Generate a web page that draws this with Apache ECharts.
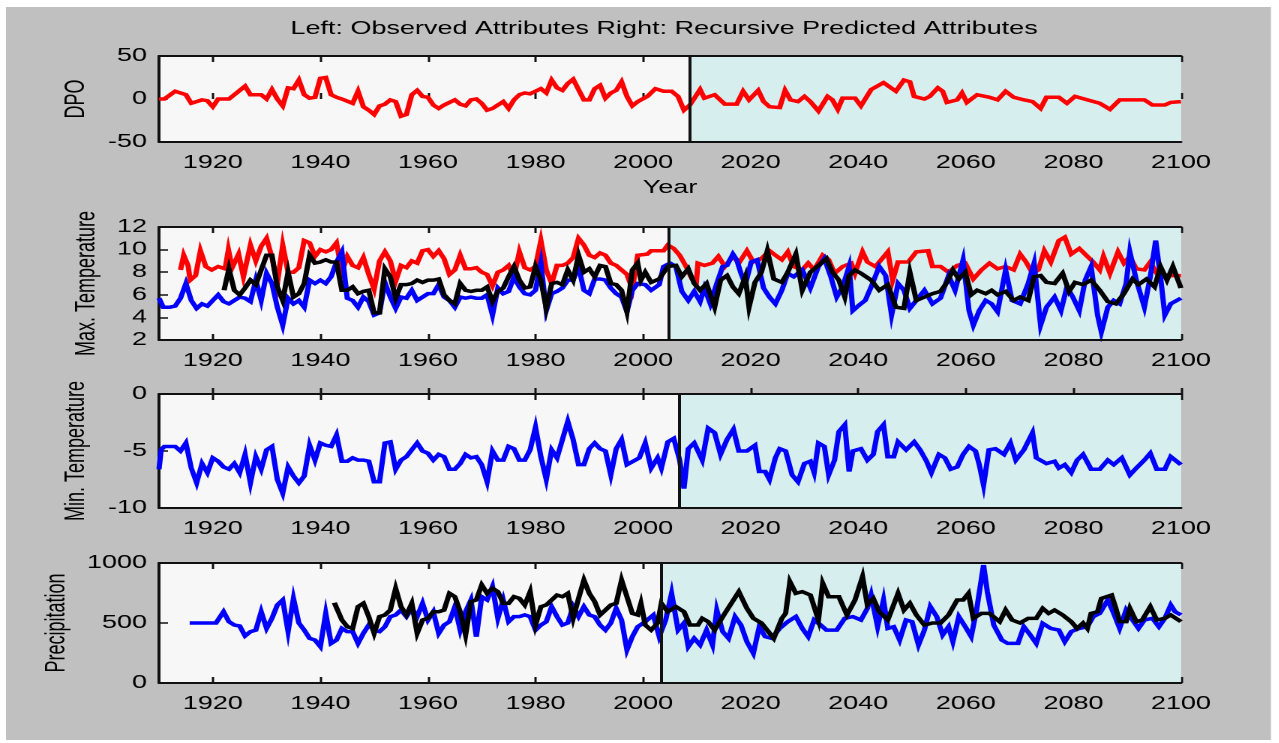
<!DOCTYPE html>
<html>
<head>
<meta charset="utf-8">
<script src="https://cdn.jsdelivr.net/npm/echarts@6/dist/echarts.min.js"></script>
<style>
  html, body { margin: 0; padding: 0; background: #ffffff; overflow: hidden; }
  #main { position: absolute; left: 0; top: 0; height: 743px; transform-origin: 0 0; }
</style>
</head>
<body>
<div id="main"></div>
<script>
// ---- data -------------------------------------------------------------
const yearTicks = [1920, 1940, 1960, 1980, 2000, 2020, 2040, 2060, 2080, 2100];
// first year of the recursive prediction in each panel
const splitYears = [2008.6, 2004.8, 2006.8, 2003.4];

const dpo = [[1910,0],[1911,0],[1913,9],[1915,5],[1916,-5],[1918,-1],[1919,-2],[1920,-9],[1921,0],[1923,0],[1924,5],[1926,15],[1927,5],[1929,5],[1930,0],[1931,11],[1932,0],[1933,-8],[1934,13],[1935,12],[1936,22],[1937,5],[1938,1],[1939,2],[1940,24],[1941,25],[1942,5],[1943,2],[1944,0],[1946,-5],[1947,9],[1948,-9],[1949,-13],[1950,-18],[1951,-8],[1952,-6],[1953,-1],[1954,-3],[1955,-20],[1956,-18],[1957,5],[1958,10],[1959,3],[1960,2],[1961,-7],[1962,-11],[1963,-7],[1965,-1],[1966,-6],[1967,-8],[1968,-1],[1969,0],[1970,-5],[1971,-13],[1972,-11],[1973,-7],[1974,-3],[1975,-11],[1976,-1],[1977,5],[1978,7],[1979,6],[1980,9],[1981,12],[1982,7],[1983,22],[1984,13],[1985,10],[1986,18],[1987,23],[1988,11],[1989,-1],[1990,-1],[1991,12],[1992,16],[1993,1],[1994,7],[1995,10],[1996,20],[1997,3],[1998,-8],[1999,-3],[2000.8,3],[2002.3,12],[2003.8,9],[2005.3,9],[2006.5,3],[2007.6,-13],[2008.7,-7],[2010.6,11],[2011.4,1],[2013.3,5],[2015.2,-6],[2017.4,-6],[2018.6,9],[2019.7,-1],[2021.4,10],[2022.4,-3],[2023.5,-9],[2025.4,-10],[2026.4,10],[2027.4,-1],[2028.8,-3],[2030,3],[2031.1,-3],[2032.6,-14],[2034.3,3],[2035.2,-1],[2036.2,-12],[2037.1,1],[2039.4,1],[2040.5,-8],[2042.4,11],[2044.7,19],[2047,9],[2048.5,22],[2049.6,20],[2050.4,3],[2052.3,0],[2053.3,3],[2054.8,13],[2055.7,9],[2056.5,-4],[2058.4,-1],[2059.3,7],[2060.2,-4],[2062.1,5],[2064.4,2],[2065.9,-1],[2067.4,9],[2068.9,2],[2070.8,-1],[2072.4,-3],[2073.9,-11],[2075,2],[2077.3,2],[2078.8,-5],[2080.3,3],[2082.6,-1],[2084.9,-5],[2086.8,-12],[2088.6,-1],[2093.2,-1],[2094.7,-7],[2097,-7],[2098.1,-4],[2100,-3]];

const maxTempRed = [[1914,8.2],[1914.6,9.5],[1915.4,8.6],[1915.8,7.3],[1916.8,7.7],[1917.7,9.9],[1918.7,8.5],[1919.8,8.2],[1921,8.5],[1922.3,8.3],[1922.9,10],[1923.6,8.4],[1924.8,9.6],[1925.7,7.6],[1927,10.4],[1928,9.0],[1929,10.3],[1930,11.0],[1931,9.3],[1932,7.0],[1933,10.4],[1934,8.0],[1935,8.0],[1936,8.4],[1937,10.8],[1938,10.6],[1939,9.4],[1940,10.0],[1941,9.8],[1942,10.0],[1943,10.6],[1944,8.0],[1945,9.4],[1946,8.6],[1947,8.4],[1948,9.3],[1949,7.8],[1950,6.5],[1951,9.0],[1952,9.8],[1953,9.0],[1954,7.2],[1955,8.6],[1956,8.4],[1957,9.0],[1958,8.8],[1959,9.9],[1960,10.0],[1961,9.4],[1962,9.9],[1963,9.2],[1964,7.8],[1965,8.2],[1966,9.5],[1967,8.3],[1968,8.3],[1969,8.4],[1970,8.0],[1971,7.8],[1972,6.8],[1973,8.0],[1974,8.2],[1975,8.6],[1976,7.6],[1977,9.8],[1978,8.4],[1979,8.2],[1980,8.5],[1981,10.8],[1982,8.2],[1983,7.0],[1984,8.6],[1985,8.6],[1986,8.8],[1987,9.3],[1988,11.0],[1989,10.4],[1990,9.5],[1991,9.3],[1992,9.7],[1993,9.5],[1994,8.8],[1995,8.6],[1996,8.2],[1997,7.8],[1998,6.5],[1999,9.5],[2000.8,9.6],[2001.5,9.9],[2003.8,9.9],[2004.6,10.4],[2005.7,10.1],[2006.8,9.5],[2008,8.5],[2009.1,7.4],[2009.9,7.1],[2010.2,8.8],[2011.4,8.6],[2012.9,8.8],[2014,9.4],[2015.2,8.5],[2016.7,9.4],[2017.8,8.8],[2019.3,9.9],[2020.5,8.9],[2022,9.2],[2023.5,9.9],[2024.6,9.5],[2025.8,9.1],[2026.9,9.8],[2028,8.5],[2029.6,8.2],[2030.7,8.8],[2031.8,8.2],[2033.4,9.5],[2034.5,9.1],[2035.6,7.9],[2037.1,8.5],[2038.7,8.8],[2039.4,7.9],[2040.8,9.8],[2041.7,8.9],[2043.2,8.5],[2045.5,9.8],[2046.4,7.3],[2047.4,8.9],[2049.3,8.9],[2050.8,9.8],[2053,9.9],[2053.8,8.5],[2055.3,8.5],[2056.8,8.0],[2058.4,8.6],[2059.9,8.8],[2061.4,7.4],[2062.9,8.2],[2064.4,8.8],[2065.9,8.3],[2067.4,8.5],[2068.9,8.2],[2070.1,9.6],[2071.2,8.9],[2072.4,7.9],[2073.5,8.2],[2074.6,9.9],[2075.8,8.9],[2077.3,10.8],[2078.4,11.1],[2079.6,9.6],[2081.1,10.1],[2082.6,9.4],[2083.7,8.9],[2084.9,8.2],[2085.6,9.4],[2086.8,7.9],[2088.3,9.8],[2089.4,8.8],[2090.5,9.4],[2091.7,8.3],[2093.2,8.2],[2094.3,8.9],[2095.5,7.9],[2097.7,7.7],[2100,7.7]];

const maxTempBlue = [[1910,5.7],[1910.8,4.9],[1912,4.9],[1913,5.0],[1914,5.7],[1915,7.0],[1916,5.5],[1917,4.8],[1918,5.2],[1919,5.0],[1920,5.5],[1921,6.0],[1922,5.4],[1923,5.2],[1924,5.5],[1925,5.8],[1926,5.7],[1927,5.4],[1928,7.3],[1929,5.5],[1930,7.9],[1931,7.0],[1932,4.9],[1933,3.3],[1934,5.7],[1935,5.2],[1936,5.5],[1937,4.9],[1938,7.3],[1939,7.0],[1940,7.3],[1941,7.0],[1942,7.6],[1943,8.9],[1944,9.8],[1945,5.7],[1946,5.5],[1947,4.9],[1948,5.8],[1949,5.4],[1950,4.2],[1951,4.4],[1952,7.1],[1953,5.8],[1954,4.8],[1955,5.8],[1956,5.7],[1957,6.4],[1958,5.5],[1959,5.8],[1960,6.1],[1961,6.1],[1962,6.9],[1963,5.8],[1964,5.5],[1965,4.9],[1966,5.8],[1967,5.7],[1968,5.8],[1969,5.7],[1970,5.7],[1971,6.0],[1972,4.2],[1973,6.6],[1974,6.1],[1975,6.3],[1976,7.6],[1977,6.7],[1978,6.1],[1979,6.0],[1980,6.4],[1981,8.8],[1982,4.6],[1983,6.1],[1984,6.3],[1985,6.6],[1986,7.3],[1987,7.3],[1988,8.5],[1989,6.4],[1990,6.1],[1991,7.4],[1992,7.4],[1993,7.3],[1994,6.6],[1995,6.1],[1996,5.8],[1997,4.5],[1998,6.4],[1999,7.0],[2000.4,6.9],[2001.5,6.4],[2003,6.9],[2003.8,8.5],[2005,8.8],[2006.1,8.5],[2007.2,6.3],[2008.4,5.5],[2009.5,6.3],[2010.6,5.4],[2011.4,6.6],[2012.5,5.2],[2013.7,7.0],[2014.8,8.5],[2015.6,8.6],[2016.7,9.6],[2017.4,9.1],[2018.2,7.9],[2019,6.9],[2020.1,8.9],[2021.2,9.1],[2022.4,6.6],[2023.5,5.8],[2024.6,5.2],[2025.8,6.4],[2026.9,7.9],[2028,7.6],[2029.6,8.2],[2031.1,6.6],[2032.6,8.5],[2033.7,9.2],[2034.9,7.6],[2036,5.8],[2037.1,6.7],[2038.3,8.5],[2039,4.6],[2040.2,5.1],[2041.3,5.5],[2042.4,6.7],[2043.9,8.5],[2045.1,7.7],[2046.2,4.2],[2047.4,7.0],[2048.5,6.4],[2049.6,4.8],[2050.8,5.5],[2052.3,6.4],[2053.8,5.2],[2055.3,5.7],[2056.8,7.7],[2058,6.4],[2059.5,9.1],[2060.6,4.6],[2061.4,3.3],[2062.5,4.6],[2063.7,5.5],[2064.8,5.2],[2065.9,4.5],[2067.4,8.2],[2068.6,5.5],[2070.1,5.2],[2071.6,7.0],[2072.7,8.8],[2073.9,3.3],[2075,4.9],[2076.5,5.8],[2077.7,4.6],[2078.8,6.7],[2079.9,5.8],[2081.1,4.6],[2082.2,7.3],[2083.3,8.5],[2084.5,4.2],[2085.2,2.7],[2086.4,4.9],[2087.5,5.5],[2088.6,5.2],[2089.8,7.0],[2090.5,9.8],[2091.7,7.3],[2093.2,4.9],[2094.3,7.6],[2095.3,10.8],[2096.2,7.6],[2097,4.2],[2098.1,5.2],[2100,5.7]];

const maxTempBlack = [[1922.1,6.4],[1923,8.3],[1924,6.4],[1925,6.0],[1926,6.6],[1927,7.3],[1928,6.9],[1929,8.2],[1930,9.5],[1931,9.5],[1932,6.7],[1933,5.5],[1934,8.0],[1935,5.8],[1936,6.1],[1937,7.0],[1938,9.5],[1939,8.8],[1940,8.9],[1941,9.1],[1942,8.9],[1943,8.9],[1944,6.4],[1945,6.4],[1946,6.7],[1947,6.1],[1948,6.3],[1949,6.4],[1950,4.4],[1951,4.4],[1952,8.3],[1953,7.6],[1954,5.7],[1955,6.9],[1956,6.9],[1957,7.0],[1958,7.3],[1959,7.1],[1960,7.3],[1961,7.3],[1962,7.4],[1963,6.0],[1964,5.5],[1965,5.2],[1966,7.0],[1967,6.4],[1968,6.3],[1969,6.4],[1970,6.4],[1971,6.7],[1972,5.4],[1973,6.3],[1974,6.6],[1975,7.6],[1976,8.5],[1977,7.3],[1978,6.6],[1979,6.7],[1980,8.5],[1981,7.3],[1982,4.8],[1983,7.0],[1984,7.1],[1985,6.9],[1986,8.2],[1987,7.3],[1988,9.5],[1989,8.0],[1990,8.3],[1991,7.6],[1992,8.6],[1993,8.5],[1994,7.0],[1995,6.9],[1996,6.4],[1997,4.5],[1998,8.2],[1999,8.8],[1999.6,7.3],[2000.4,8.0],[2001.5,7.1],[2003,7.4],[2004.6,8.5],[2006.1,8.6],[2007.2,7.6],[2008.4,8.3],[2009.5,7.0],[2010.6,6.4],[2011.8,7.0],[2013.3,4.9],[2014.4,7.3],[2015.6,7.7],[2016.7,6.7],[2017.8,6.1],[2019,7.6],[2019.7,4.9],[2020.8,7.1],[2022,8.0],[2023.1,9.9],[2024.3,7.4],[2025.8,7.1],[2026.9,8.0],[2028.4,9.6],[2029.6,6.4],[2031.1,8.0],[2032.6,8.6],[2034.1,9.2],[2035.2,8.0],[2036.4,7.3],[2037.5,5.8],[2038.3,7.7],[2039.4,8.2],[2040.5,7.9],[2042.4,7.3],[2043.9,6.4],[2045.5,6.9],[2047,4.9],[2048.5,4.8],[2049.6,8.0],[2050.8,5.5],[2052.3,5.8],[2053.8,6.1],[2055.3,6.3],[2056.5,7.1],[2057.6,8.2],[2058.7,7.4],[2059.9,8.0],[2061,6.0],[2062.1,6.4],[2063.7,6.1],[2064.8,6.4],[2065.9,6.0],[2067.4,6.3],[2068.9,5.5],[2070.1,5.8],[2071.6,5.5],[2072.7,7.6],[2073.9,7.7],[2075,7.1],[2076.5,7.0],[2078,7.9],[2079.2,6.3],[2080.3,7.1],[2081.8,6.9],[2083.3,7.3],[2084.9,6.4],[2086.4,5.4],[2087.9,5.2],[2089.4,6.1],[2091,7.4],[2092.1,6.9],[2093.6,7.4],[2095.1,6.7],[2096.2,8.5],[2097.4,7.3],[2098.5,8.5],[2100,6.6]];

const minTemp = [[1910,-6.6],[1910.4,-4.9],[1911,-4.6],[1912,-4.6],[1913,-4.6],[1914,-5.0],[1915,-4.3],[1916,-6.5],[1917,-7.8],[1918,-6.1],[1919,-6.9],[1920,-5.6],[1921,-5.9],[1922,-6.4],[1923,-6.6],[1924,-6.1],[1925,-6.9],[1926,-5.3],[1927,-7.8],[1928,-5.5],[1929,-6.6],[1930,-4.9],[1931,-4.6],[1932,-7.5],[1933,-8.7],[1934,-6.4],[1935,-7.2],[1936,-7.8],[1937,-7.2],[1938,-4.5],[1939,-5.8],[1940,-4.3],[1941,-4.5],[1942,-4.6],[1943,-3.6],[1944,-5.9],[1945,-5.9],[1946,-5.6],[1947,-5.8],[1948,-5.8],[1949,-5.9],[1950,-7.7],[1951,-7.7],[1952,-4.3],[1953,-4.2],[1954,-6.6],[1955,-5.8],[1956,-5.5],[1957,-4.9],[1958,-4.3],[1959,-5.0],[1960,-5.2],[1961,-5.8],[1962,-5.3],[1963,-5.5],[1964,-6.6],[1965,-6.6],[1966,-6.1],[1967,-5.3],[1968,-5.6],[1969,-5.5],[1970,-6.2],[1971,-7.7],[1972,-5.0],[1973,-5.8],[1974,-5.8],[1975,-4.6],[1976,-4.8],[1977,-5.8],[1978,-5.8],[1979,-4.9],[1980,-2.9],[1981,-5.5],[1982,-7.5],[1983,-4.9],[1984,-5.6],[1985,-4.0],[1986,-2.4],[1987,-4.0],[1988,-6.2],[1989,-6.2],[1990,-4.8],[1991,-4.3],[1992,-4.8],[1993,-5.0],[1994,-7.1],[1995,-4.8],[1996,-4.0],[1997,-6.2],[1999.3,-5.6],[2000.4,-4.3],[2001.5,-6.5],[2002.7,-5.6],[2003.4,-6.5],[2004.6,-4.2],[2005.7,-3.9],[2006.8,-5.8],[2007.6,-8.3],[2008.4,-4.8],[2009.5,-4.3],[2011,-5.8],[2012.1,-3.0],[2013.3,-3.4],[2014.4,-5.3],[2015.6,-4.0],[2016.8,-3.1],[2017.8,-5.0],[2019.3,-5.0],[2020.8,-4.5],[2021.6,-6.8],[2022.7,-6.8],[2023.5,-7.5],[2024.6,-5.6],[2025.4,-4.8],[2026.5,-5.0],[2027.7,-7.1],[2028.8,-7.7],[2030,-6.1],[2031.1,-5.9],[2031.8,-6.9],[2032.6,-4.3],[2033.7,-4.6],[2034.5,-7.1],[2035.6,-5.8],[2036.4,-3.3],[2037.5,-2.7],[2038.3,-6.8],[2039,-5.0],[2040.5,-4.8],[2041.7,-5.8],[2042.8,-5.3],[2043.6,-3.3],[2044.7,-2.7],[2045.5,-5.5],[2046.6,-5.5],[2047.4,-4.2],[2048.9,-4.9],[2050.4,-4.2],[2051.5,-4.9],[2052.7,-5.9],[2053.6,-6.9],[2055,-5.3],[2056.1,-5.6],[2057.2,-6.6],[2058.4,-6.4],[2059.5,-5.3],[2060.6,-4.6],[2061.8,-5.0],[2062.5,-6.2],[2063.3,-8.0],[2064.3,-4.9],[2065.5,-4.8],[2067.1,-5.3],[2068.3,-4.3],[2069.3,-5.8],[2070.8,-4.9],[2072.4,-3.4],[2073.1,-5.6],[2075,-6.1],[2076.5,-5.9],[2077.3,-6.5],[2078.4,-6.2],[2079.6,-6.9],[2080.7,-5.8],[2081.8,-5.3],[2083.3,-6.6],[2084.9,-6.6],[2086.4,-5.8],[2087.5,-6.2],[2089,-5.6],[2090.5,-7.1],[2091.7,-6.5],[2093.2,-5.8],[2094.3,-5.2],[2095.5,-6.6],[2097,-6.6],[2098.1,-5.5],[2100,-6.2]];

const precipBlue = [[1915.7,500],[1920.6,500],[1922,594],[1923,511],[1924,483],[1925,475],[1926,392],[1927,428],[1928,441],[1929,594],[1930,455],[1931,539],[1932,650],[1933,692],[1934,428],[1935,705],[1936,500],[1937,441],[1938,372],[1939,358],[1940,303],[1941,580],[1942,330],[1943,358],[1944,455],[1945,428],[1946,428],[1947,330],[1948,414],[1949,483],[1950,441],[1951,428],[1952,469],[1953,553],[1954,567],[1955,608],[1956,553],[1957,622],[1958,553],[1959,664],[1960,525],[1961,594],[1962,414],[1963,483],[1964,511],[1965,636],[1966,441],[1967,594],[1968,692],[1969,386],[1970,719],[1971,692],[1972,803],[1973,539],[1974,692],[1975,511],[1976,553],[1977,553],[1978,567],[1979,553],[1980,441],[1981,483],[1982,511],[1983,636],[1984,553],[1985,483],[1986,500],[1987,636],[1988,553],[1989,636],[1990,567],[1991,553],[1992,483],[1993,441],[1994,500],[1995,622],[1996,525],[1997,275],[1998,386],[1999,469],[2000.4,511],[2001.9,567],[2003,386],[2004.2,525],[2005.3,747],[2006.5,441],[2007.6,500],[2008.4,303],[2009.5,372],[2010.6,317],[2011.8,441],[2012.9,317],[2013.7,608],[2014.8,428],[2015.9,372],[2017.1,553],[2018.2,483],[2019.3,344],[2020.5,247],[2021.6,469],[2022.7,386],[2023.9,372],[2025.4,455],[2026.9,511],[2028.4,553],[2029.6,455],[2030.7,386],[2031.8,525],[2033,483],[2034.1,441],[2036,441],[2037.5,539],[2039,553],[2040.5,525],[2041.7,622],[2042.4,733],[2043.6,469],[2044.7,692],[2045.5,455],[2046.6,469],[2047.7,358],[2048.9,525],[2050,511],[2051.2,317],[2052.3,441],[2053.4,636],[2054.6,553],[2055.7,400],[2056.8,469],[2057.6,344],[2058.7,553],[2059.9,469],[2061,386],[2062,608],[2063.3,983],[2064,761],[2065.2,483],[2066.7,358],[2067.8,330],[2069.7,330],[2070.8,469],[2072,400],[2073.1,330],[2074.3,497],[2075.8,455],[2077.3,441],[2078.4,344],[2079.6,428],[2081.1,455],[2082.6,469],[2083.7,553],[2084.9,580],[2086.4,692],[2087.5,580],[2088.6,455],[2089.8,608],[2091,525],[2092.1,455],[2093.2,525],[2094.7,539],[2095.9,469],[2097,539],[2098.1,650],[2098.9,594],[2100,567]];

const precipBlack = [[1942.6,669],[1944,525],[1945,469],[1946,455],[1947,636],[1948,664],[1949,553],[1950,414],[1951,553],[1952,567],[1953,608],[1954,789],[1955,636],[1956,567],[1957,664],[1958,414],[1959,525],[1960,539],[1961,594],[1962,594],[1963,608],[1964,747],[1965,719],[1966,594],[1967,400],[1968,678],[1969,692],[1970,817],[1971,747],[1972,789],[1973,761],[1974,664],[1975,664],[1976,719],[1977,705],[1978,650],[1979,761],[1980,483],[1981,636],[1982,650],[1983,692],[1984,733],[1985,719],[1986,747],[1987,539],[1988,705],[1989,858],[1990,747],[1991,678],[1992,567],[1993,608],[1994,650],[1995,664],[1996,858],[1997,719],[1998,580],[1999,567],[1999.6,664],[2000.4,483],[2001.5,441],[2002.7,500],[2003.4,664],[2004.6,594],[2006.1,636],[2007.6,594],[2008.7,483],[2010.2,483],[2011,539],[2012.1,511],[2013.3,441],[2015.2,580],[2017.8,761],[2019.3,622],[2020.5,539],[2022,500],[2024.3,372],[2025.8,539],[2026.5,580],[2027.3,844],[2028.4,747],[2029.6,761],[2031.1,733],[2032.6,525],[2033.4,831],[2034.5,719],[2036.4,719],[2037.9,567],[2039.4,692],[2040.8,886],[2041.7,650],[2042.8,705],[2043.9,594],[2045.5,525],[2047.4,747],[2048.5,608],[2049.6,664],[2050.8,567],[2052.3,483],[2053.8,500],[2055.3,500],[2056.8,567],[2058.4,692],[2059.5,692],[2060.5,747],[2061.4,539],[2062.9,580],[2064.4,580],[2066.3,511],[2067.4,608],[2068.6,525],[2070.1,500],[2071.6,539],[2073.1,539],[2074.3,622],[2075.4,580],[2076.5,608],[2078,567],[2079.6,511],[2080.7,455],[2081.8,500],[2082.6,455],[2083.3,580],[2084.5,594],[2085.2,705],[2087.1,733],[2087.9,622],[2088.6,511],[2089.8,511],[2090.5,622],[2091.7,511],[2092.8,525],[2094.3,636],[2095.5,525],[2097,539],[2098.1,567],[2100,511]];

// ---- figure layout ----------------------------------------------------
// The figure is drawn in a narrower box and stretched horizontally by SX.
const SX = 1.5;
const FIG_W = 1279 / SX;
const FONT = "'Liberation Sans', Arial, Helvetica, sans-serif";
const FS = 18;
const GRID_LEFT = 106;
const GRID_W = 681.3;
const X_MIN = 1910, X_MAX = 2100;
const plain = v => String(v);

const panels = [
  { top: 56,  height: 86,  min: -50, max: 50,   interval: 50,  name: 'DPO',              nameGap: 46,
    lines: [{ data: dpo, color: '#ff0000' }] },
  { top: 227, height: 113, min: 2,   max: 12,   interval: 2,   name: 'Max. Temperature', nameGap: 39,
    lines: [{ data: maxTempRed, color: '#ff0000' }, { data: maxTempBlue, color: '#0000ff' }, { data: maxTempBlack, color: '#000000' }] },
  { top: 394, height: 114, min: -10, max: 0,    interval: 5,   name: 'Min. Temperature', nameGap: 46,
    lines: [{ data: minTemp, color: '#0000ff' }] },
  { top: 563, height: 120, min: 0,   max: 1000, interval: 500, name: 'Precipitation',    nameGap: 58,
    lines: [{ data: precipBlue, color: '#0000ff' }, { data: precipBlack, color: '#000000' }] }
];

const el = document.getElementById('main');
el.style.width = FIG_W + 'px';
el.style.transform = 'scaleX(' + SX + ')';

const grid = [], xAxis = [], yAxis = [], series = [];
const frameLine = { show: true, lineStyle: { color: '#111', width: 2 } };

panels.forEach((p, i) => {
  grid.push({ left: GRID_LEFT, top: p.top, width: GRID_W, height: p.height,
              show: true, backgroundColor: '#f7f7f7', borderWidth: 0 });
  const base = { type: 'value', gridIndex: i, min: X_MIN, max: X_MAX, splitLine: { show: false } };
  const bottomIdx = xAxis.length;
  // ticks + labels (drawn beneath the prediction shading)
  xAxis.push(Object.assign({}, base, {
    position: 'bottom', z: 0,
    axisLine: { show: false },
    axisTick: { show: true, inside: true, length: 6, customValues: yearTicks, lineStyle: { color: '#111', width: 1.5 } },
    axisLabel: { show: true, margin: 12, customValues: yearTicks, formatter: plain,
                 color: '#000', fontSize: FS, fontFamily: FONT },
    name: i === 0 ? 'Year' : '', nameLocation: 'middle', nameGap: 37,
    nameTextStyle: { color: '#000', fontSize: FS, fontFamily: FONT }
  }));
  xAxis.push(Object.assign({}, base, {
    position: 'top', z: 0,
    axisLine: { show: false },
    axisTick: { show: true, inside: true, length: 6, customValues: yearTicks, lineStyle: { color: '#111', width: 1.5 } },
    axisLabel: { show: false }
  }));
  // frame lines above the shading
  xAxis.push(Object.assign({}, base, { position: 'bottom', z: 10, axisLine: frameLine,
    axisTick: { show: false }, axisLabel: { show: false } }));
  xAxis.push(Object.assign({}, base, { position: 'top', z: 10, axisLine: frameLine,
    axisTick: { show: false }, axisLabel: { show: false } }));

  yAxis.push({
    type: 'value', gridIndex: i, min: p.min, max: p.max, interval: p.interval,
    position: 'left', splitLine: { show: false },
    axisLine: frameLine,
    axisTick: { show: true, inside: true, length: 6, lineStyle: { color: '#111', width: 1.5 } },
    axisLabel: { margin: 8, formatter: plain, color: '#000', fontSize: FS, fontFamily: FONT },
    name: p.name, nameLocation: 'middle', nameGap: p.nameGap,
    nameTextStyle: { color: '#000', fontSize: FS, fontFamily: FONT }
  });

  // prediction region shading and its boundary
  series.push({
    type: 'line', xAxisIndex: bottomIdx, yAxisIndex: i, data: [], z: 1, silent: true,
    markArea: { silent: true, itemStyle: { color: '#d7eeee' },
                data: [[{ xAxis: splitYears[i] }, { xAxis: X_MAX }]] },
    markLine: { silent: true, symbol: ['none', 'none'], label: { show: false },
                lineStyle: { color: '#111', width: 2, type: 'solid' },
                data: [{ xAxis: splitYears[i] }] }
  });

  p.lines.forEach(l => {
    series.push({
      type: 'line', xAxisIndex: bottomIdx, yAxisIndex: i, data: l.data, z: 3,
      showSymbol: false, symbol: 'none', silent: true,
      lineStyle: { color: l.color, width: 3.5, join: 'miter' }
    });
  });
});

const chart = echarts.init(el, null, { renderer: 'canvas', devicePixelRatio: 2 });
chart.setOption({
  animation: false,
  backgroundColor: '#ffffff',
  graphic: [
    { type: 'rect', z: -100, silent: true,
      shape: { x: 4, y: 7, width: 843.3, height: 733 },
      style: { fill: '#c0c0c0' } },
    { type: 'text', z: 100, silent: true, x: 442.7, y: 20,
      style: { text: 'Left: Observed Attributes Right: Recursive Predicted Attributes',
               fill: '#000', font: FS + 'px ' + FONT, textAlign: 'center', textVerticalAlign: 'top' } }
  ],
  grid, xAxis, yAxis, series
});
</script>
</body>
</html>
